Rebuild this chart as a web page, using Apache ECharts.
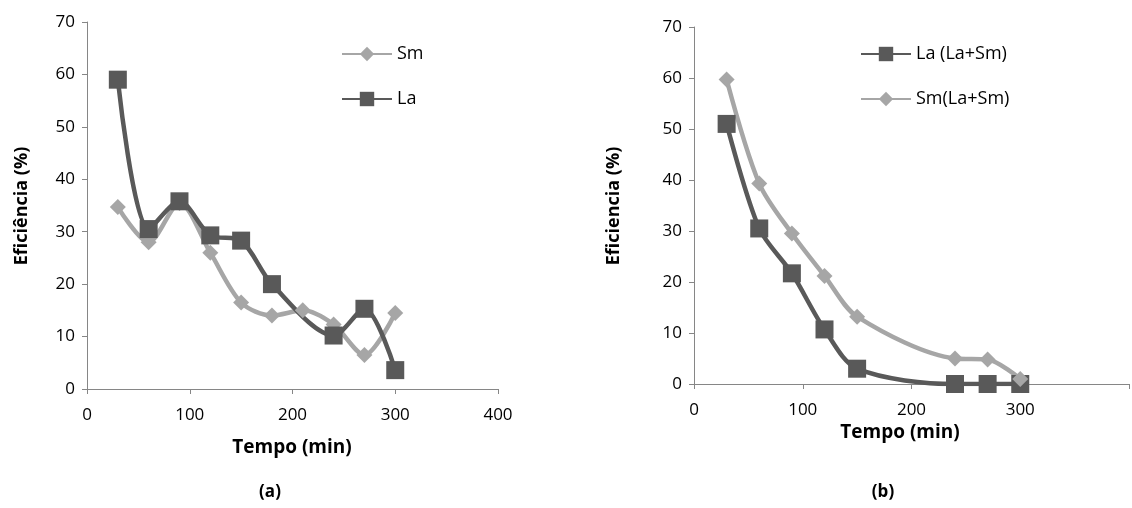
<!DOCTYPE html>
<html><head><meta charset="utf-8">
<script src="https://cdn.jsdelivr.net/npm/echarts@6/dist/echarts.min.js"></script>
<style>html,body{margin:0;background:#fff}#c{width:1132px;height:508px}</style>
</head><body><div id="c"></div>
<script>
const xA = [30,60,90,120,150,180,210,240,270,300];
const smA = [34.7,28,35.5,26,16.5,14,15,12.3,6.5,14.5];
const xLaA = [30,60,90,120,150,180,240,270,300];
const laA = [59,30.5,35.8,29.3,28.3,20,10.2,15.3,3.6];
const xB = [30,60,90,120,150,240,270,300];
const laB = [51,30.5,21.7,10.7,3,0,0,0];
const smB = [59.7,39.3,29.5,21.2,13.2,5,4.8,1];
const yTicks = [0,10,20,30,40,50,60,70];

const dark = '#595959', light = '#a6a6a6';
const font = '"Open Sans", sans-serif';
const zip = (xs, ys) => xs.map((x, i) => [x, ys[i]]);
const axisStyle = {lineStyle:{color:'#868686',width:1}};
function xAxis(gi, max){
  return {type:'value', gridIndex:gi, min:0, max:max, interval:100,
    axisLine:{show:true,...axisStyle}, axisTick:{show:true,inside:false,length:5,...axisStyle},
    splitLine:{show:false},
    axisLabel:{show:true,color:'#000',fontSize:17,fontFamily:font,margin:18,
      formatter:v=> v<=(gi===1?300:400)?String(v):''}};
}
function yAxis(gi){
  return {type:'value', gridIndex:gi, min:0, max:70, interval:10,
    axisLine:{show:true,...axisStyle}, axisTick:{show:true,length:5,...axisStyle},
    splitLine:{show:false},
    axisLabel:{show:true,color:'#000',fontSize:17,fontFamily:font,margin:12}};
}
function ser(name, data, gi, color, sym, size){
  return {name, type:'line', xAxisIndex:gi, yAxisIndex:gi, data, smooth:0.3,
    symbol:sym, symbolSize:size, lineStyle:{color,width:4.5}, itemStyle:{color},
    color};
}
const chart = echarts.init(document.getElementById('c'));
chart.setOption({
  animation:false,
  grid:[{left:87,top:22,width:411,height:367},{left:694,top:27,width:465,height:357}],
  xAxis:[xAxis(0,400),xAxis(1,400)],
  yAxis:[yAxis(0),yAxis(1)],
  legend:[
    {data:['Sm','La'],orient:'vertical',left:336,top:40,itemGap:27,itemWidth:50,itemHeight:18,
     textStyle:{fontSize:18,fontFamily:font,color:'#000'}},
    {data:['La (La+Sm)','Sm(La+Sm)'],orient:'vertical',left:855,top:40,itemGap:27,itemWidth:50,itemHeight:18,
     textStyle:{fontSize:18,fontFamily:font,color:'#000'}}
  ],
  series:[
    ser('Sm', zip(xA,smA), 0, light, 'diamond', 16),
    ser('La', zip(xLaA,laA), 0, dark, 'rect', 18),
    ser('La (La+Sm)', zip(xB,laB), 1, dark, 'rect', 18),
    ser('Sm(La+Sm)', zip(xB,smB), 1, light, 'diamond', 16)
  ],
  graphic:[
    {type:'text',x:292,y:448,style:{text:'Tempo (min)',font:'bold 19px '+font,fill:'#000',align:'center',verticalAlign:'middle'}},
    {type:'text',x:900,y:433,style:{text:'Tempo (min)',font:'bold 19px '+font,fill:'#000',align:'center',verticalAlign:'middle'}},
    {type:'text',x:270,y:492,style:{text:'(a)',font:'bold 17px '+font,fill:'#000',align:'center',verticalAlign:'middle'}},
    {type:'text',x:883,y:492,style:{text:'(b)',font:'bold 17px '+font,fill:'#000',align:'center',verticalAlign:'middle'}},
    {type:'text',x:22,y:206,rotation:Math.PI/2,style:{text:'Eficiência (%)',font:'bold 18px '+font,fill:'#000',align:'center',verticalAlign:'middle'}},
    {type:'text',x:614,y:206,rotation:Math.PI/2,style:{text:'Eficiencia (%)',font:'bold 18px '+font,fill:'#000',align:'center',verticalAlign:'middle'}}
  ]
});
</script></body></html>
